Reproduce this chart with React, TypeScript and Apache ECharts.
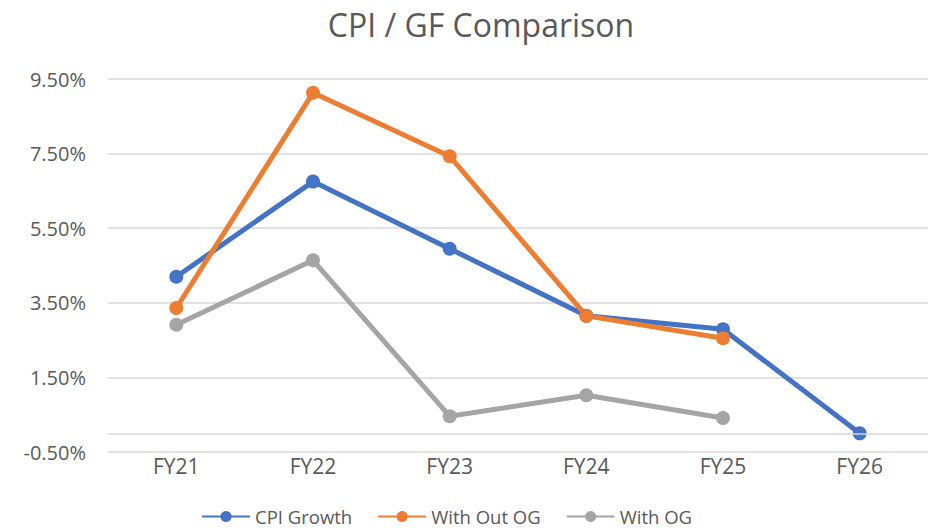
import React, { useEffect, useRef } from "react";
import * as echarts from "echarts";

const categories = ["FY21", "FY22", "FY23", "FY24", "FY25", "FY26"];
const cpiGrowth = [4.2, 6.75, 4.95, 3.15, 2.79, 0.0];
const withOutOG = [3.36, 9.13, 7.43, 3.15, 2.55, null];
const withOG = [2.91, 4.64, 0.46, 1.02, 0.41, null];
const seriesNames = ["CPI Growth", "With Out OG", "With OG"];
const colors = ["#4472C4", "#ED7D31", "#A5A5A5"];
const yMin = -0.5;
const yMax = 9.5;
const yStep = 2;

const FONT = "'Open Sans', sans-serif";
const TEXT = "#595959";
const GRID = "#D9D9D9";

export default function App() {
  const ref = useRef<HTMLDivElement>(null);
  useEffect(() => {
    if (!ref.current) return;
    const chart = echarts.init(ref.current, null, { renderer: "svg" });
    const lineSeries = [cpiGrowth, withOutOG, withOG].map((d, i) => ({
      name: seriesNames[i],
      type: "line",
      data: d,
      symbol: "circle",
      symbolSize: 14,
      showAllSymbol: true,
      connectNulls: false,
      z: 3,
      itemStyle: { color: colors[i] },
      lineStyle: { color: colors[i], width: 5 },
      emphasis: { disabled: true },
    }));
    chart.setOption({
      animation: false,
      textStyle: { fontFamily: FONT },
      graphic: [
        {
          type: "text",
          x: 481,
          y: 8,
          style: {
            text: "CPI / GF Comparison",
            fill: TEXT,
            font: `32px ${FONT}`,
            textAlign: "center",
            textVerticalAlign: "top",
          },
        },
      ],
      legend: {
        data: seriesNames,
        left: 196,
        top: 502,
        itemWidth: 48,
        itemHeight: 14,
        itemGap: 25,
        textStyle: { color: TEXT, fontSize: 18.5, fontFamily: FONT },
      },
      grid: { left: 108, right: -4, top: 79, bottom: 78, containLabel: false },
      xAxis: {
        type: "category",
        data: categories,
        boundaryGap: true,
        axisLine: { show: false },
        axisTick: { show: false },
        axisLabel: { color: TEXT, fontSize: 21, fontFamily: FONT, margin: 3 },
      },
      yAxis: {
        type: "value",
        min: yMin,
        max: yMax,
        interval: yStep,
        axisLine: { show: false },
        axisTick: { show: false },
        splitLine: { lineStyle: { color: GRID, width: 1.5 } },
        axisLabel: {
          color: TEXT,
          fontSize: 20,
          fontFamily: FONT,
          margin: 22,
          formatter: (v: number) => v.toFixed(2) + "%",
        },
      },
      series: [
        {
          name: "zero",
          type: "line",
          data: [],
          z: 1,
          markLine: {
            silent: true,
            symbol: "none",
            label: { show: false },
            lineStyle: { color: GRID, width: 1.5, type: "solid" },
            data: [{ yAxis: 0 }],
          },
        },
        ...lineSeries,
      ],
    });
    return () => chart.dispose();
  }, []);
  return (
    <div
      ref={ref}
      style={{ position: "fixed", left: 0, top: 0, width: 928, height: 530, background: "#fff" }}
    />
  );
}
